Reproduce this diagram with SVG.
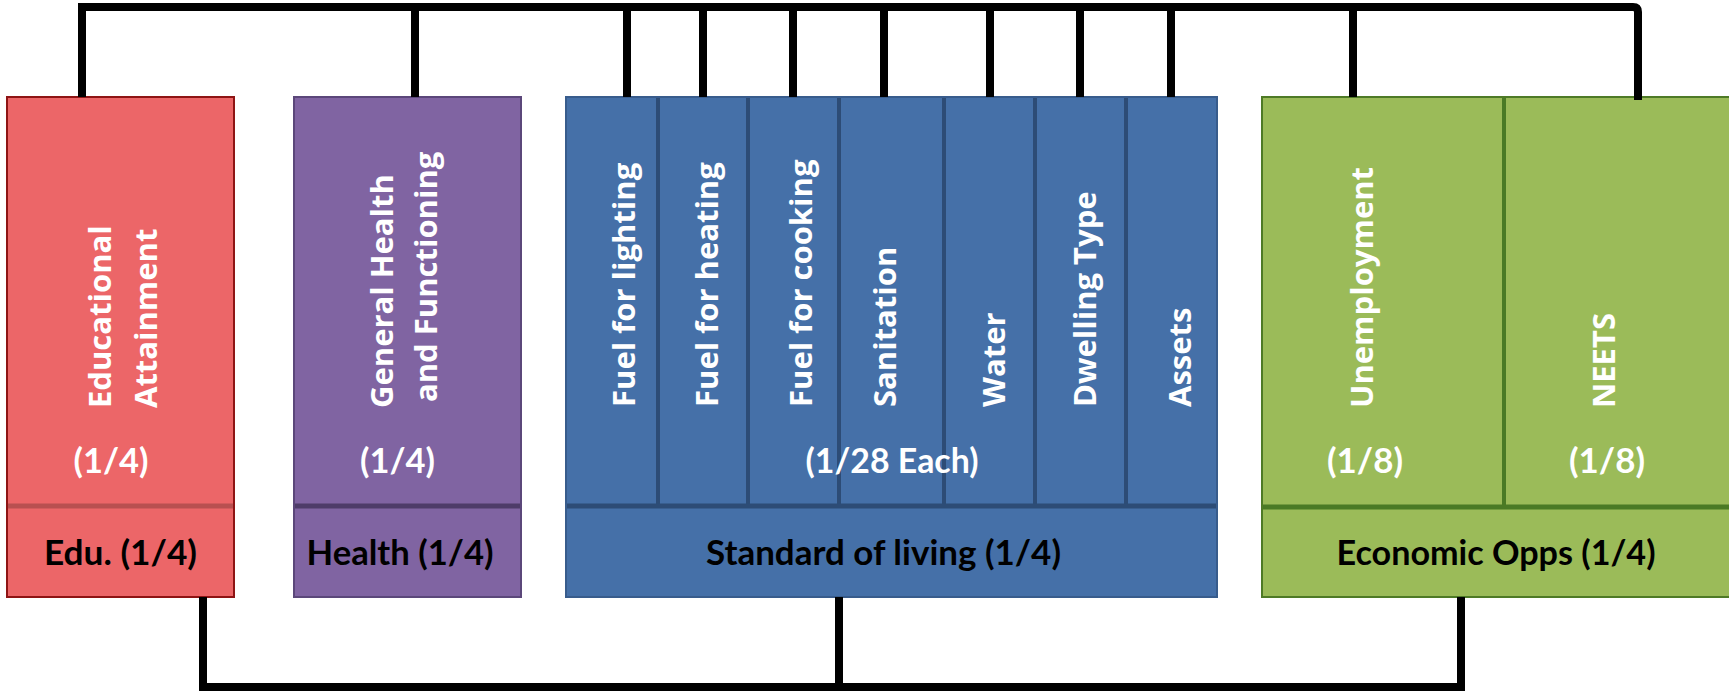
<svg xmlns="http://www.w3.org/2000/svg" width="1729" height="692" viewBox="0 0 1729 692">
<style>
.vt{font-family:"Open Sans","DejaVu Sans",sans-serif;font-weight:700;font-size:31px;fill:#fff}
.num{font-family:Lato,"Liberation Sans",sans-serif;font-weight:700;font-size:34px;fill:#fff;text-anchor:middle}
.lbl{font-family:Lato,"Liberation Sans",sans-serif;font-weight:700;font-size:34px;fill:#000;text-anchor:middle}
.conn{fill:none;stroke:#000;stroke-width:8;stroke-linejoin:miter}
</style>
<rect width="1729" height="692" fill="#fff"/>
<g id="edu">
<rect x="7" y="97" width="227" height="500" fill="#EC6668" stroke="#8E1414" stroke-width="2"/>
<line x1="8" y1="506" x2="233" y2="506" stroke="#B85050" stroke-width="5"/>
<text class="vt" transform="translate(111,408) rotate(-90)">Educational</text>
<text class="vt" transform="translate(157,408) rotate(-90)">Attainment</text>
<text class="num" x="111" y="473" textLength="75" lengthAdjust="spacingAndGlyphs">(1/4)</text>
<text class="lbl" x="120.5" y="565" textLength="153" lengthAdjust="spacingAndGlyphs">Edu. (1/4)</text>
</g>
<g id="health">
<rect x="294" y="97" width="227" height="500" fill="#8064A2" stroke="#5B477A" stroke-width="2"/>
<line x1="295" y1="506" x2="520" y2="506" stroke="#4E3C69" stroke-width="5"/>
<text class="vt" transform="translate(393,408) rotate(-90)">General Health</text>
<text class="vt" transform="translate(437,402) rotate(-90)">and Functioning</text>
<text class="num" x="397.5" y="473" textLength="75" lengthAdjust="spacingAndGlyphs">(1/4)</text>
<text class="lbl" x="400" y="565" textLength="187" lengthAdjust="spacingAndGlyphs">Health (1/4)</text>
</g>
<g id="living">
<rect x="566" y="97" width="651" height="500" fill="#4570A8" stroke="#385C8C" stroke-width="2"/>
<g stroke="#2D4C76" stroke-width="4">
<line x1="658" y1="98" x2="658" y2="506"/>
<line x1="748" y1="98" x2="748" y2="506"/>
<line x1="839" y1="98" x2="839" y2="506"/>
<line x1="944" y1="98" x2="944" y2="506"/>
<line x1="1035" y1="98" x2="1035" y2="506"/>
<line x1="1126" y1="98" x2="1126" y2="506"/>
</g>
<line x1="567" y1="506" x2="1216" y2="506" stroke="#2D4C76" stroke-width="5"/>
<text class="vt" transform="translate(635,407) rotate(-90)">Fuel for lighting</text>
<text class="vt" transform="translate(718,407) rotate(-90)">Fuel for heating</text>
<text class="vt" transform="translate(812,407) rotate(-90)">Fuel for cooking</text>
<text class="vt" transform="translate(896,407) rotate(-90)">Sanitation</text>
<text class="vt" transform="translate(1005,407) rotate(-90)">Water</text>
<text class="vt" transform="translate(1096,407) rotate(-90)">Dwelling Type</text>
<text class="vt" transform="translate(1191,407) rotate(-90)">Assets</text>
<text class="num" x="892" y="473" textLength="173" lengthAdjust="spacingAndGlyphs">(1/28 Each)</text>
<text class="lbl" x="883.5" y="565" textLength="355" lengthAdjust="spacingAndGlyphs">Standard of living (1/4)</text>
</g>
<g id="econ">
<rect x="1262" y="97" width="480" height="500" fill="#9BBB59" stroke="#4E7A26" stroke-width="2"/>
<line x1="1504" y1="98" x2="1504" y2="506" stroke="#4A7A25" stroke-width="4"/>
<line x1="1263" y1="507" x2="1729" y2="507" stroke="#4A7A25" stroke-width="5"/>
<text class="vt" transform="translate(1373,408) rotate(-90)">Unemployment</text>
<text class="vt" transform="translate(1615,408) rotate(-90)">NEETS</text>
<text class="num" x="1365" y="473" textLength="76" lengthAdjust="spacingAndGlyphs">(1/8)</text>
<text class="num" x="1607" y="473" textLength="76" lengthAdjust="spacingAndGlyphs">(1/8)</text>
<text class="lbl" x="1496" y="565" textLength="319" lengthAdjust="spacingAndGlyphs">Economic Opps (1/4)</text>
</g>
<g id="connectors" class="conn">
<path d="M82,97 V7 H1633 Q1638,7 1638,12 V100"/>
<path d="M415,11 V97 M627,11 V97 M703,11 V97 M793,11 V97 M884,11 V97 M990,11 V97 M1080,11 V97 M1171,11 V97 M1353,11 V97"/>
<path d="M203,597 V687 H1461 V597"/>
<path d="M839,597 V687"/>
</g>
</svg>
